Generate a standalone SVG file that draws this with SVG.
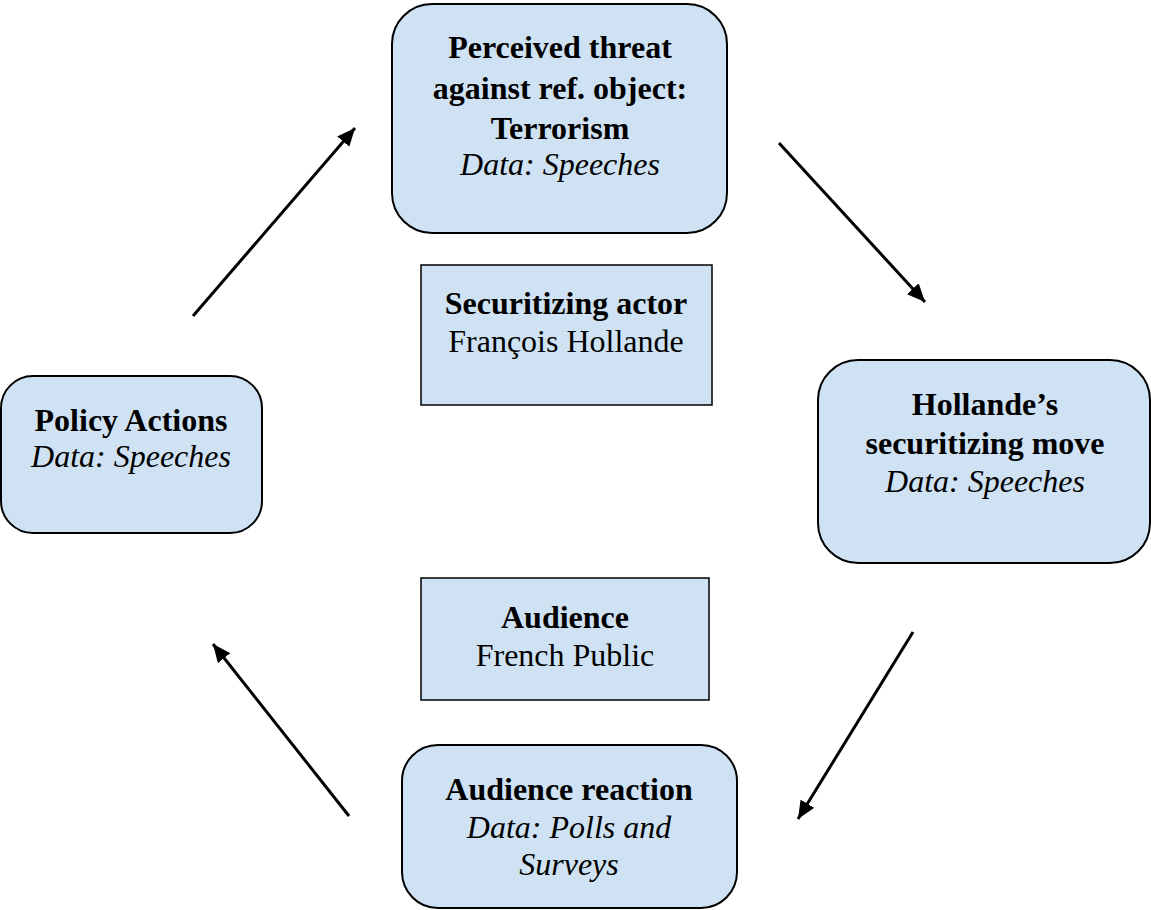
<svg xmlns="http://www.w3.org/2000/svg" width="1151" height="910" viewBox="0 0 1151 910">
<style>
.box{fill:#cfe2f3;stroke:#000;stroke-width:2}
.t{font-family:"Liberation Serif","Times New Roman",serif;font-size:32px;fill:#000;text-anchor:middle}
.b{font-weight:bold}
.i{font-style:italic}
.conn line{stroke:#000;stroke-width:3}
</style>
<defs>
<marker id="ah" markerUnits="userSpaceOnUse" markerWidth="20" markerHeight="16" refX="18" refY="8" orient="auto">
<path d="M0,0 L18,8 L0,16 Z" fill="#000"/>
</marker>
</defs>
<rect width="1151" height="910" fill="#fff"/>
<g id="threat">
<rect class="box" x="392" y="4" width="335" height="229" rx="40"/>
<text class="t b" x="560" y="58">Perceived threat</text>
<text class="t b" x="560" y="99">against ref. object:</text>
<text class="t b" x="560" y="139">Terrorism</text>
<text class="t i" x="560" y="175">Data: Speeches</text>
</g>
<g id="actor">
<rect x="421" y="265" width="291" height="140" fill="#cfe2f3" stroke="#000" stroke-width="1.5"/>
<text class="t b" x="566" y="314">Securitizing actor</text>
<text class="t" x="566" y="352">François Hollande</text>
</g>
<g id="move">
<rect class="box" x="818" y="360" width="332" height="203" rx="40"/>
<text class="t b" x="985" y="415">Hollande’s</text>
<text class="t b" x="985" y="454">securitizing move</text>
<text class="t i" x="985" y="492">Data: Speeches</text>
</g>
<g id="policy">
<rect class="box" x="1" y="376" width="261" height="157" rx="32"/>
<text class="t b" x="131" y="431">Policy Actions</text>
<text class="t i" x="131" y="467">Data: Speeches</text>
</g>
<g id="audience">
<rect x="421" y="578" width="288" height="122" fill="#cfe2f3" stroke="#000" stroke-width="1.5"/>
<text class="t b" x="565" y="628">Audience</text>
<text class="t" x="565" y="666">French Public</text>
</g>
<g id="reaction">
<rect class="box" x="402" y="745" width="335" height="163" rx="36"/>
<text class="t b" x="569" y="800">Audience reaction</text>
<text class="t i" x="569" y="838">Data: Polls and</text>
<text class="t i" x="569" y="875">Surveys</text>
</g>
<g id="connectors" class="conn">
<line x1="193" y1="316" x2="355" y2="128" marker-end="url(#ah)"/>
<line x1="779" y1="143" x2="925" y2="302" marker-end="url(#ah)"/>
<line x1="913" y1="632" x2="798" y2="819" marker-end="url(#ah)"/>
<line x1="349" y1="816" x2="213" y2="644" marker-end="url(#ah)"/>
</g>
</svg>
